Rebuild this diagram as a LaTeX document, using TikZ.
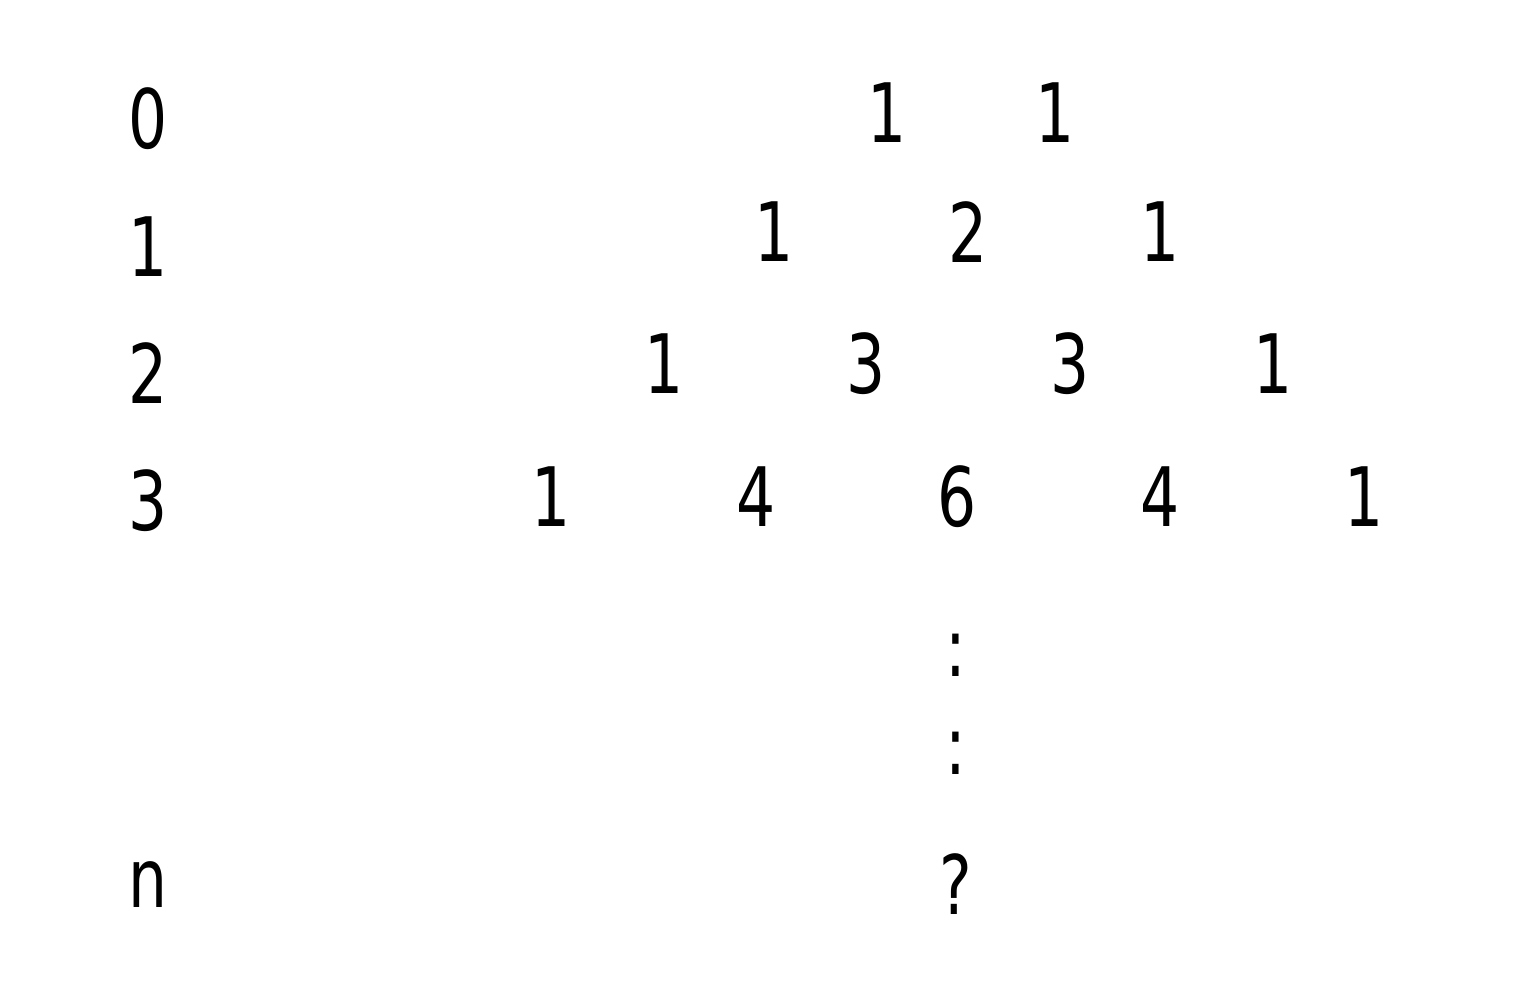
\documentclass[tikz,border=0pt]{standalone}
\usepackage{fontspec}
\setmainfont[FakeStretch=0.75]{DejaVu Sans}
\begin{document}
\begin{tikzpicture}[x=1pt,y=-1pt,
  num/.style={inner sep=0pt,anchor=center,font=\fontsize{82}{82}\selectfont}]
\useasboundingbox (0,0) rectangle (1532,986);
% row labels
\node[num] (l0) at (148,119) {0};
\node[num] (l1) at (148,247) {1};
\node[num] (l2) at (148,373) {2};
\node[num] (l3) at (148,501) {3};
\node[num] (ln) at (148,885) {n};
% row 0
\node[num] (a1) at (887,113) {1};
\node[num] (a2) at (1055,113) {1};
% row 1
\node[num] (b1) at (774,232) {1};
\node[num] (b2) at (968,232) {2};
\node[num] (b3) at (1160,232) {1};
% row 2
\node[num] (c1) at (664,364) {1};
\node[num] (c2) at (866,364) {3};
\node[num] (c3) at (1070,364) {3};
\node[num] (c4) at (1273,364) {1};
% row 3
\node[num] (d1) at (551,497) {1};
\node[num] (d2) at (756,497) {4};
\node[num] (d3) at (957,497) {6};
\node[num] (d4) at (1160,497) {4};
\node[num] (d5) at (1364,497) {1};
% dots
\node[num] (e1) at (956,655) {:};
\node[num] (e2) at (956,753) {:};
\node[num] (q) at (956,884) {?};
\end{tikzpicture}
\end{document}
